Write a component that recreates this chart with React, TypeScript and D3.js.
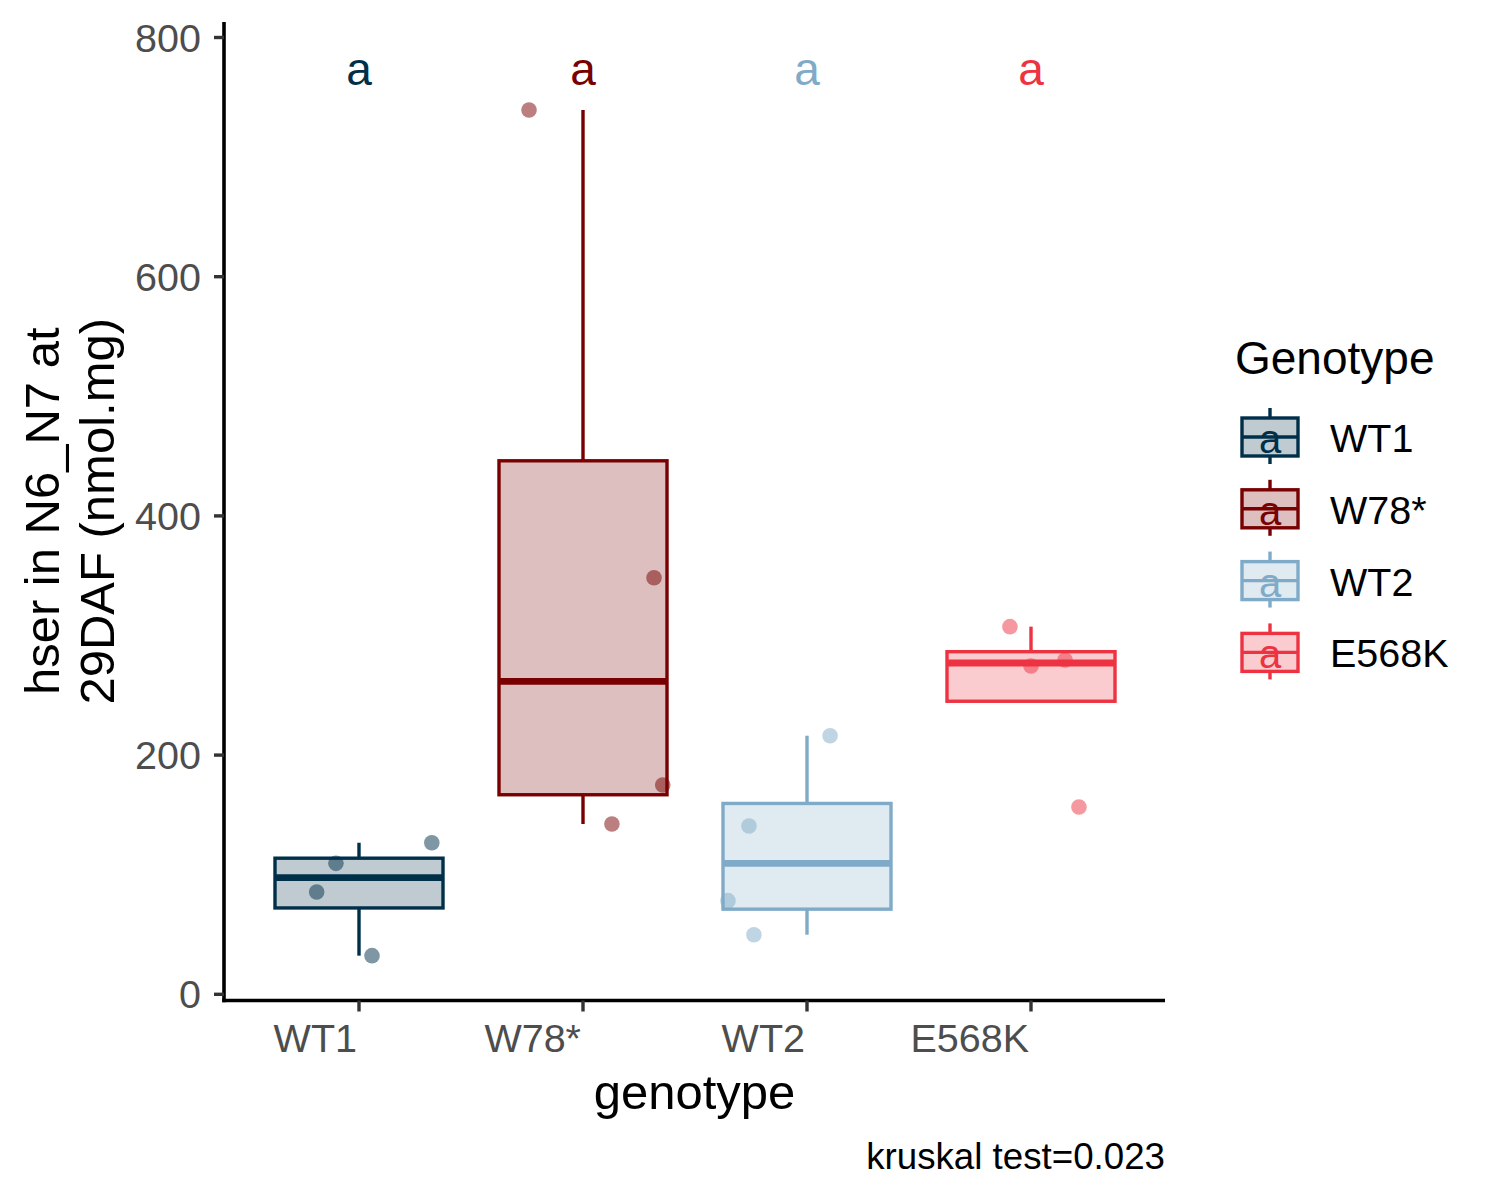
import React from "react";
import * as d3 from "d3";

const genotypes = ["WT1", "W78*", "WT2", "E568K"];
const colors = ["#003049", "#780000", "#7FABC8", "#ED3241"];
const valuesWT1 = [126.7, 109.5, 85.5, 32.3];
const jitterWT1 = [0.325, -0.103, -0.189, 0.058];
const valuesW78 = [739.4, 348.3, 175.0, 142.4];
const jitterW78 = [-0.241, 0.317, 0.356, 0.129];
const valuesWT2 = [216.2, 140.7, 78.3, 49.8];
const jitterWT2 = [0.103, -0.259, -0.353, -0.237];
const valuesE568K = [307.4, 274.5, 279.5, 156.6];
const jitterE568K = [-0.094, 0.0, 0.152, 0.214];
const groupValues = [valuesWT1, valuesW78, valuesWT2, valuesE568K];
const groupJitter = [jitterWT1, jitterW78, jitterWT2, jitterE568K];
const letters = ["a", "a", "a", "a"];
const letterValue = 760;
const yTicks = [0, 200, 400, 600, 800];
const yTitle = ["hser in N6_N7 at", "29DAF (nmol.mg)"];
const xTitle = "genotype";
const legendTitle = "Genotype";
const caption = "kruskal test=0.023";

const FONT = "'Liberation Sans', Arial, Helvetica, sans-serif";

function stats(vals: number[]) {
  const s = [...vals].sort((a, b) => a - b);
  const q1 = d3.quantile(s, 0.25)!;
  const med = d3.quantile(s, 0.5)!;
  const q3 = d3.quantile(s, 0.75)!;
  const iqr = q3 - q1;
  const hi = d3.max(s.filter((v) => v <= q3 + 1.5 * iqr))!;
  const lo = d3.min(s.filter((v) => v >= q1 - 1.5 * iqr))!;
  return { q1, med, q3, hi, lo };
}

export default function App() {
  const panelLeft = 224;
  const panelRight = 1165;
  const panelTop = 22;
  const panelBottom = 1000.5;
  const y = d3.scaleLinear().domain([0, 800]).range([994.3, 37.5]);
  const x = d3.scalePoint<string>().domain(genotypes).range([359, 1031]);
  const step = x.step();
  const boxW = 0.75 * step;
  const sw = 3.4;

  const legendY0 = 437;
  const legendStep = 71.8;

  return (
    <svg
      width={1500}
      height={1200}
      style={{ position: "absolute", left: 0, top: 0, background: "#fff" }}
      fontFamily={FONT}
    >
      <rect x={0} y={0} width={1500} height={1200} fill="#fff" />
      {/* boxes */}
      {genotypes.map((g, i) => {
        const st = stats(groupValues[i]);
        const cx = x(g)!;
        const c = colors[i];
        return (
          <g key={g}>
            {st.hi > st.q3 && (
              <line x1={cx} x2={cx} y1={y(st.q3)} y2={y(st.hi)} stroke={c} strokeWidth={sw} />
            )}
            {st.lo < st.q1 && (
              <line x1={cx} x2={cx} y1={y(st.q1)} y2={y(st.lo)} stroke={c} strokeWidth={sw} />
            )}
            <rect x={cx - boxW / 2} y={y(st.q3)} width={boxW} height={y(st.q1) - y(st.q3)} fill="#fff" />
            <rect
              x={cx - boxW / 2}
              y={y(st.q3)}
              width={boxW}
              height={y(st.q1) - y(st.q3)}
              fill={c}
              fillOpacity={0.25}
              stroke={c}
              strokeWidth={sw}
            />
            <line x1={cx - boxW / 2} x2={cx + boxW / 2} y1={y(st.med)} y2={y(st.med)} stroke={c} strokeWidth={sw * 2} />
          </g>
        );
      })}
      {/* points */}
      {genotypes.map((g, i) =>
        groupValues[i].map((v, j) => (
          <circle
            key={g + j}
            cx={x(g)! + groupJitter[i][j] * step}
            cy={y(v)}
            r={7.8}
            fill={colors[i]}
            fillOpacity={0.5}
          />
        ))
      )}
      {/* letters */}
      {genotypes.map((g, i) => (
        <text key={"l" + g} x={x(g)!} y={y(letterValue)} fill={colors[i]} fontSize={46} textAnchor="middle">
          {letters[i]}
        </text>
      ))}
      {/* axes */}
      <line x1={panelLeft} x2={panelLeft} y1={panelTop} y2={panelBottom + 1.8} stroke="#000" strokeWidth={3.6} />
      <line x1={panelLeft - 1.8} x2={panelRight} y1={panelBottom} y2={panelBottom} stroke="#000" strokeWidth={3.6} />
      {yTicks.map((t) => (
        <g key={"yt" + t}>
          <line x1={panelLeft - 10} x2={panelLeft} y1={y(t)} y2={y(t)} stroke="#333" strokeWidth={3.4} />
          <text x={201} y={y(t) + 14} fontSize={39.5} fill="#4D4D4D" textAnchor="end">
            {t}
          </text>
        </g>
      ))}
      {genotypes.map((g) => (
        <g key={"xt" + g}>
          <line x1={x(g)!} x2={x(g)!} y1={panelBottom} y2={panelBottom + 11} stroke="#333" strokeWidth={3.4} />
          <text x={x(g)! - 2} y={1052} fontSize={39.5} fill="#4D4D4D" textAnchor="end">
            {g}
          </text>
        </g>
      ))}
      {/* axis titles */}
      <text x={(panelLeft + panelRight) / 2} y={1109} fontSize={49} textAnchor="middle" fill="#000">
        {xTitle}
      </text>
      {yTitle.map((line, k) => (
        <text
          key={"ytl" + k}
          transform={`translate(${59 + k * 55},${(panelTop + panelBottom) / 2}) rotate(-90)`}
          fontSize={49}
          textAnchor="middle"
          fill="#000"
        >
          {line}
        </text>
      ))}
      {/* caption */}
      <text x={1165} y={1169} fontSize={36.7} textAnchor="end" fill="#000">
        {caption}
      </text>
      {/* legend */}
      <text x={1235} y={374} fontSize={46} fill="#000">
        {legendTitle}
      </text>
      {genotypes.map((g, i) => {
        const cy = legendY0 + i * legendStep;
        const c = colors[i];
        return (
          <g key={"lg" + g}>
            <line x1={1270} x2={1270} y1={cy - 29} y2={cy + 27} stroke={c} strokeWidth={sw} />
            <rect x={1242} y={cy - 19} width={56} height={38} fill="#fff" />
            <rect x={1242} y={cy - 19} width={56} height={38} fill={c} fillOpacity={0.25} stroke={c} strokeWidth={sw} />
            <line x1={1242} x2={1298} y1={cy} y2={cy} stroke={c} strokeWidth={sw} />
            <text x={1270} y={cy + 16} fontSize={40} fill={c} textAnchor="middle">
              a
            </text>
            <text x={1330} y={cy + 15} fontSize={39.5} fill="#000">
              {g}
            </text>
          </g>
        );
      })}
    </svg>
  );
}
